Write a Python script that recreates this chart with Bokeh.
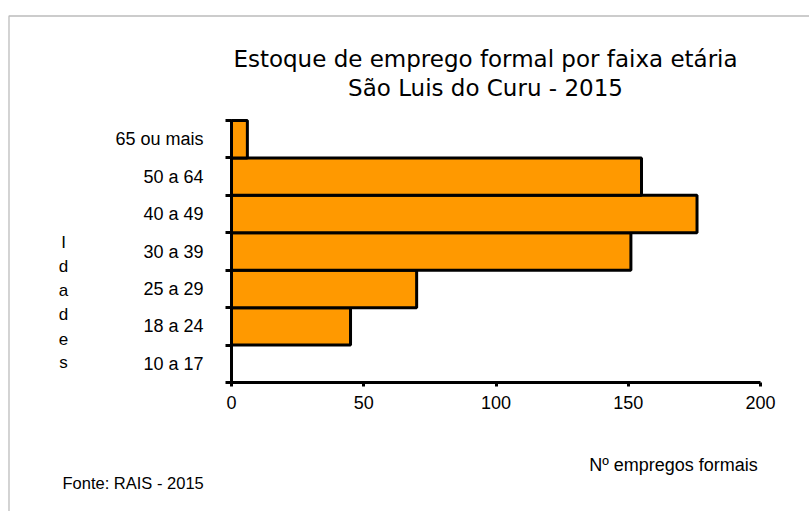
from bokeh.plotting import figure
from bokeh.models import Range1d, FixedTicker, Label, BoxAnnotation, ColumnDataSource, LinearAxis
from bokeh.embed import file_html
from bokeh.resources import INLINE

categories = ["10 a 17", "18 a 24", "25 a 29", "30 a 39", "40 a 49", "50 a 64", "65 ou mais"]
values = [0, 45, 70, 151, 176, 155, 6]
x_ticks = [0, 50, 100, 150, 200]

title1 = "Estoque de emprego formal por faixa etária"
title2 = "São Luis do Curu - 2015"
xlabel = "Nº empregos formais"
ylabel = "Idades"
source_note = "Fonte: RAIS - 2015"

FONT = "Liberation Sans"
TFONT = "DejaVu Sans"
W, H = 809, 511
# chart area geometry in page pixels
FL, FR, FT, FB = 231, 760, 120, 382
XMAX = 200
NCAT = len(categories)
sx = (FR - FL) / XMAX
sy = (FB - FT) / NCAT

def dx(px):
    return (px - FL) / sx

def dy(py):
    return (FB - py) / sy

p = figure(width=W, height=H, output_backend="svg", toolbar_location=None,
           x_range=Range1d(dx(0), dx(W)), y_range=Range1d(dy(H), dy(0)),
           x_axis_type=None, y_axis_type=None, min_border=0)
p.outline_line_color = None
p.grid.visible = False
p.background_fill_color = "white"
p.border_fill_color = "white"

ypos = [i + 0.5 for i in range(NCAT)]
src = ColumnDataSource(dict(y=ypos, v=values, cat=categories))
p.hbar(y="y", right="v", left=0, height=1.0, source=src,
       fill_color="#FF9900", line_color="black", line_width=3)

# x axis
xa = LinearAxis(fixed_location=0, bounds=(0, XMAX))
xa.ticker = FixedTicker(ticks=x_ticks)
xa.axis_line_width = 3
xa.axis_line_color = "black"
xa.major_tick_line_width = 3
xa.major_tick_line_color = "black"
xa.major_tick_out = 4
xa.major_tick_in = 0
xa.minor_tick_line_color = None
xa.major_label_text_font = FONT
xa.major_label_text_font_size = "18px"
xa.major_label_text_color = "black"
xa.major_label_standoff = 9
p.add_layout(xa, "below")

# y axis
ya = LinearAxis(fixed_location=0, bounds=(0, NCAT))
ya.ticker = FixedTicker(ticks=ypos, minor_ticks=list(range(NCAT + 1)))
ya.major_label_overrides = {y: c for y, c in zip(ypos, categories)}
ya.axis_line_width = 3
ya.axis_line_color = "black"
ya.major_tick_line_color = None
ya.major_tick_out = 0
ya.major_tick_in = 0
ya.minor_tick_line_color = "black"
ya.minor_tick_line_width = 3
ya.minor_tick_out = 6
ya.minor_tick_in = 0
ya.major_label_text_font = FONT
ya.major_label_text_font_size = "18px"
ya.major_label_text_color = "black"
ya.major_label_standoff = 22
p.add_layout(ya, "left")

# frame border around chart area
p.add_layout(BoxAnnotation(left=dx(8.5), right=dx(2000), top=dy(15.5), bottom=dy(2000),
                           fill_alpha=0, line_color="#222222", line_width=1.3))

def lab(px, py, txt, size, align="center", font=FONT):
    p.add_layout(Label(x=dx(px), y=dy(py), text=txt, text_align=align,
                       text_baseline="middle", text_font=font,
                       text_font_size=size, text_color="black"))

# titles
lab(485, 58, title1, "23px", font=TFONT)
lab(485, 87, title2, "23px", font=TFONT)

# x axis title
lab(673, 464, xlabel, "18px")

# vertical stacked y title
for i, ch in enumerate(ylabel):
    lab(63, 242 + i * 24, ch, "17px")

# source note
lab(62, 482, source_note, "16.5px", align="left")

open("out.html", "w").write(file_html(p, INLINE))
